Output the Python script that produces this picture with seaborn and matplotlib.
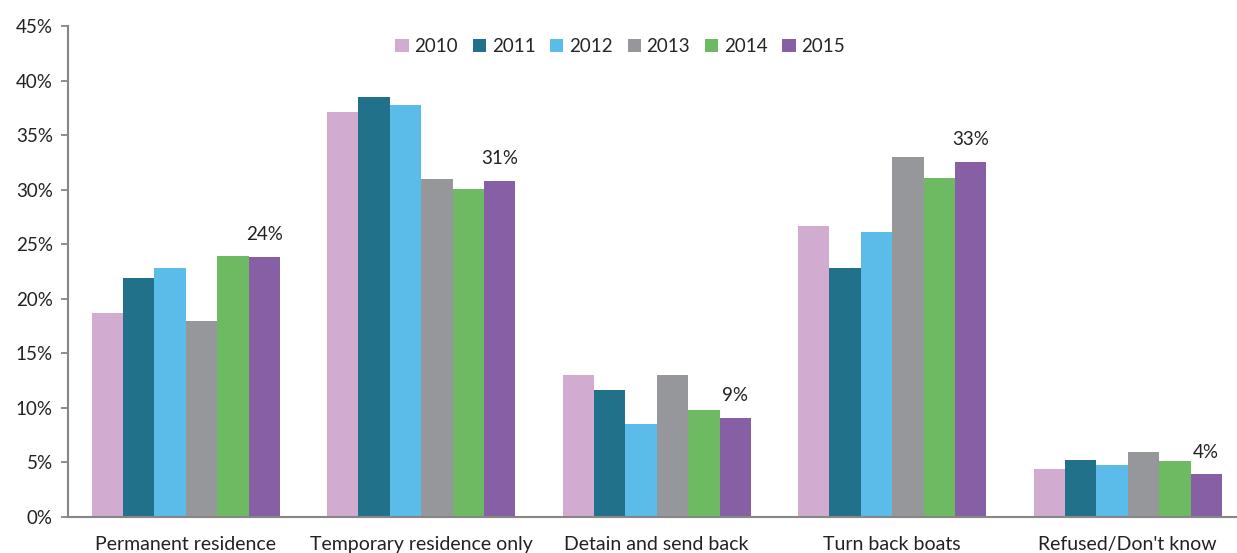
import pandas as pd
import numpy as np
import matplotlib.pyplot as plt
import seaborn as sns

# Chart data
categories = ["Permanent residence", "Temporary residence only", "Detain and send back",
              "Turn back boats", "Refused/Don't know"]
years = ["2010", "2011", "2012", "2013", "2014", "2015"]
v2010 = [18.7, 37.1, 13.0, 26.7, 4.4]
v2011 = [21.9, 38.5, 11.6, 22.8, 5.2]
v2012 = [22.8, 37.8, 8.5, 26.1, 4.8]
v2013 = [18.0, 31.0, 13.0, 33.0, 6.0]
v2014 = [23.9, 30.1, 9.8, 31.1, 5.1]
v2015 = [23.8, 30.8, 9.1, 32.5, 3.9]
labels_2015 = ["24%", "31%", "9%", "33%", "4%"]
colors = ["#D1ABD0", "#22718A", "#5BBBE9", "#96979B", "#6EBA63", "#875FA5"]

series = [v2010, v2011, v2012, v2013, v2014, v2015]
rows = []
for yr, vals in zip(years, series):
    for cat, v in zip(categories, vals):
        rows.append({"category": cat, "year": yr, "value": v})
df = pd.DataFrame(rows)

sns.set_style("white")
plt.rcParams["font.family"] = ["Lato", "DejaVu Sans"]

fig = plt.figure(figsize=(12.37, 5.53), dpi=100)
ax = fig.add_axes([68 / 1237, 36 / 553, 1177.5 / 1237, 491 / 553])

sns.barplot(data=df, x="category", y="value", hue="year", palette=colors,
            width=0.8, saturation=1, linewidth=0, ax=ax)

ax.set_xlim(-0.5, 4.5)
ax.set_ylim(0, 45)
ax.set_yticks(np.arange(0, 46, 5))
ax.set_yticklabels([f"{t}%" for t in range(0, 46, 5)], fontsize=13.5, color="#222222")
ax.set_xlabel("")
ax.set_ylabel("")

# group separators as minor ticks on the x axis
ax.set_xticks(np.arange(-0.5, 4.6, 1.0), minor=True)
ax.tick_params(axis="x", which="major", length=0, pad=14, labelsize=14, labelcolor="#222222")
ax.tick_params(axis="x", which="minor", length=7, width=1.3, color="#868686", direction="out")
ax.tick_params(axis="y", which="major", length=5, width=1.3, color="#868686", direction="out",
               left=True, pad=6)

for side in ["top", "right"]:
    ax.spines[side].set_visible(False)
for side in ["left", "bottom"]:
    ax.spines[side].set_color("#868686")
    ax.spines[side].set_linewidth(1.5)

# labels over the 2015 bars
bars_2015 = ax.containers[-1]
for bar, lbl in zip(bars_2015, labels_2015):
    ax.annotate(lbl, (bar.get_x() + bar.get_width() / 2, bar.get_height()),
                xytext=(0, 10), textcoords="offset points", ha="center", va="bottom",
                fontsize=13.5, color="#222222")

handles, labs = ax.get_legend_handles_labels()
ax.legend(handles, labs, ncol=6, loc="center", bbox_to_anchor=(0.469, 0.958),
          frameon=False, fontsize=13.5, handlelength=0.7, handleheight=0.7,
          handletextpad=0.3, columnspacing=0.8)

plt.savefig("out.png", dpi=100)
plt.close()
